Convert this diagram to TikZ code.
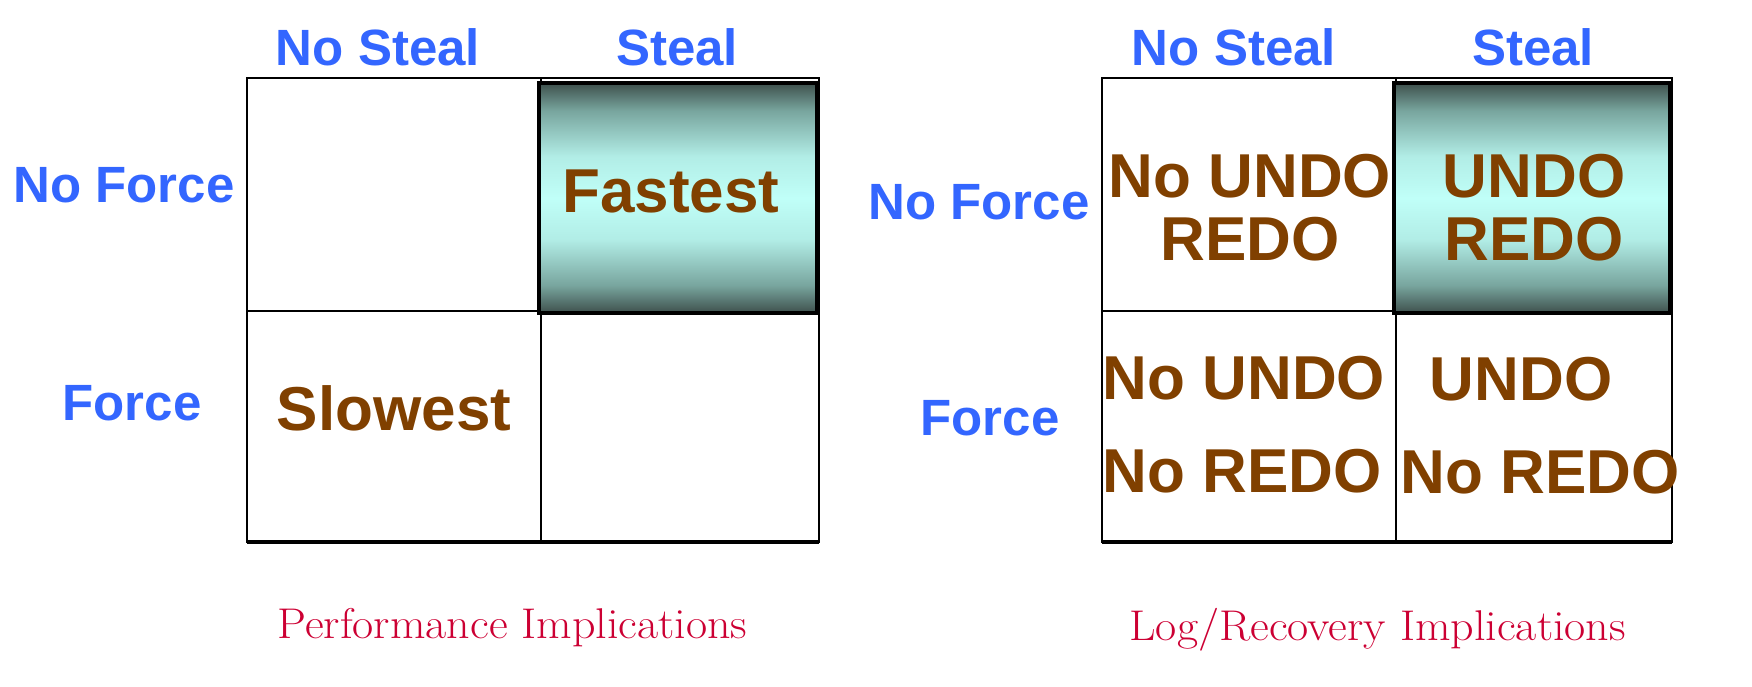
\documentclass[tikz,border=0pt]{standalone}
\usepackage{fontspec}
\newfontfamily\arialfont{Liberation Sans}
\newfontfamily\capfont[FakeStretch=1.07]{Latin Modern Roman}
\usetikzlibrary{positioning}
\definecolor{labelblue}{RGB}{51,102,255}
\definecolor{cellbrown}{RGB}{128,64,0}
\definecolor{captionred}{RGB}{204,0,51}
\definecolor{shadedark}{RGB}{62,80,76}
\definecolor{shademid}{RGB}{120,165,158}
\definecolor{shadelight}{RGB}{192,255,248}
\pgfdeclareverticalshading{fastshade}{100bp}{color(0bp)=(shadedark); color(25bp)=(shadedark); color(31bp)=(shademid); color(41bp)=(shadelight!80!shademid); color(50bp)=(shadelight); color(59bp)=(shadelight!80!shademid); color(69bp)=(shademid); color(75bp)=(shadedark); color(100bp)=(shadedark)}

\begin{document}
\begin{tikzpicture}[x=0.5pt, y=-0.5pt,
    header/.style={text=labelblue, font=\arialfont\bfseries\fontsize{25.5}{30}\selectfont, inner sep=0pt},
    cell/.style={text=cellbrown, font=\arialfont\bfseries\fontsize{31}{31.5}\selectfont, inner sep=0pt, align=center},
    caption/.style={text=captionred, font=\capfont\fontsize{21.5}{25}\selectfont, inner sep=0pt, anchor=base west},
    gridline/.style={line width=1pt},
    fastbox/.style={line width=1.75pt, shading=fastshade}]
		\useasboundingbox (0,0) rectangle (1752,686);
		% performance table
		\draw[gridline] (247,78) rectangle (819,542);
		\draw[gridline] (541,78) -- (541,542);
		\draw[gridline] (247,311) -- (819,311);
		\draw[line width=1.75pt] (247,542) -- (819,542);
		\draw[fastbox] (539,83) rectangle (817,313);
		\node[header] (ns1) at (378,47) {No Steal};
		\node[header] (st1) at (677,47) {Steal};
		\node[header] (nf1) at (124,185) {No Force};
		\node[header] (fo1) at (132,403) {Force};
		\node[cell] (fast) at (671,191) {Fastest};
		\node[cell] (slow) at (394,408) {Slowest};
		\node[caption] (perf) at (277,638) {Performance Implications};
		% log/recovery table
		\draw[gridline] (1102,78) rectangle (1672,542);
		\draw[gridline] (1396,78) -- (1396,542);
		\draw[gridline] (1102,311) -- (1672,311);
		\draw[line width=1.75pt] (1102,542) -- (1672,542);
		\draw[fastbox] (1394,83) rectangle (1670,313);
		\node[header] (ns2) at (1234,47) {No Steal};
		\node[header] (st2) at (1533,47) {Steal};
		\node[header] (nf2) at (979,202) {No Force};
		\node[header] (fo2) at (990,418) {Force};
		\node[cell] (nfns) at (1250,207.5) {No UNDO\\REDO};
		\node[cell] (nfst) at (1534,207.5) {UNDO\\REDO};
		\node[cell] (fnsa) at (1244,378) {No UNDO};
		\node[cell] (fnsb) at (1242,471) {No REDO};
		\node[cell] (fsta) at (1521,379) {UNDO};
		\node[cell] (fstb) at (1540,472) {No REDO};
		\node[caption] (logrec) at (1129,640) {Log/Recovery Implications};
\end{tikzpicture}
\end{document}
